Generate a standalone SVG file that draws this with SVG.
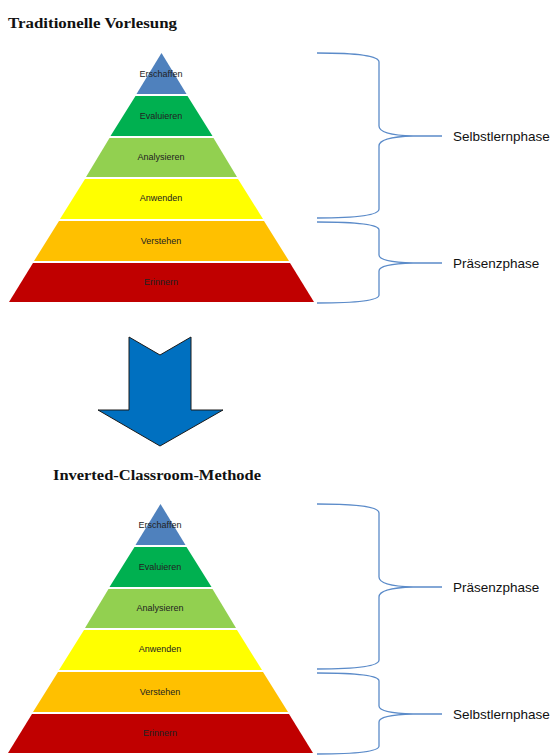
<svg xmlns="http://www.w3.org/2000/svg" width="553" height="756" viewBox="0 0 553 756">
<defs>
<style>
.title{font-family:"Liberation Serif","Times New Roman",serif;font-weight:bold;font-size:15px;fill:#111}
.lvl{font-family:"Liberation Sans",Arial,sans-serif;font-size:9px;fill:#222;text-anchor:middle;dominant-baseline:central}
.phase{font-family:"Liberation Sans",Arial,sans-serif;font-size:13.5px;fill:#111;dominant-baseline:central}
.brace{fill:none;stroke:#5B8BC9;stroke-width:1.3}
.arrow{fill:#0070C0;stroke:#1a1a1a;stroke-width:1}
</style>
<g id="pyr">
<polygon points="161.5,53 186.5,94 136.5,94" fill="#4F81BD"/>
<polygon points="135.5,96 187.5,96 212.5,136 110.5,136" fill="#00B050"/>
<polygon points="109.5,138 213.5,138 237,177 86,177" fill="#92D050"/>
<polygon points="85,179 238,179 263,219 60,219" fill="#FFFF00"/>
<polygon points="59,221 264,221 289,261 34,261" fill="#FFC000"/>
<polygon points="33,263 290,263 314,302 9,302" fill="#C00000"/>
</g>
</defs>

<text class="title" x="8" y="28" textLength="169" lengthAdjust="spacingAndGlyphs">Traditionelle Vorlesung</text>

<g id="pyramid-top">
<use href="#pyr"/>
<text class="lvl" x="161" y="74">Erschaffen</text>
<text class="lvl" x="161" y="116">Evaluieren</text>
<text class="lvl" x="161" y="157">Analysieren</text>
<text class="lvl" x="161" y="198">Anwenden</text>
<text class="lvl" x="161" y="241">Verstehen</text>
<text class="lvl" x="161" y="282">Erinnern</text>
</g>

<g id="arrow">
<polygon class="arrow" points="129,337 160,355 191,337 191,410 223,410 160,446 98,410 129,410"/>
</g>

<text class="title" x="53" y="480" textLength="208" lengthAdjust="spacingAndGlyphs">Inverted-Classroom-Methode</text>

<g id="pyramid-bottom" transform="translate(-1,451)">
<use href="#pyr"/>
<text class="lvl" x="161" y="74">Erschaffen</text>
<text class="lvl" x="161" y="116">Evaluieren</text>
<text class="lvl" x="161" y="157">Analysieren</text>
<text class="lvl" x="161" y="198">Anwenden</text>
<text class="lvl" x="161" y="241">Verstehen</text>
<text class="lvl" x="161" y="282">Erinnern</text>
</g>

<g id="connectors">
<path class="brace" d="M317,53 Q379,53 379,62 L379,126 Q379,135 413,136 L442,136 M413,136 Q379,137 379,146 L379,209 Q379,218 317,218"/>
<path class="brace" d="M317,222 Q379,222 379,230 L379,255 Q379,262 413,263 L442,263 M413,263 Q379,264 379,271 L379,295 Q379,303 317,303"/>
<path class="brace" d="M317,504 Q379,504 379,513 L379,577 Q379,586 413,587 L442,587 M413,587 Q379,588 379,597 L379,660 Q379,669 317,669"/>
<path class="brace" d="M317,673 Q379,673 379,681 L379,706 Q379,713 413,714 L442,714 M413,714 Q379,715 379,722 L379,746 Q379,754 317,754"/>
</g>

<g id="labels">
<text class="phase" x="453" y="136">Selbstlernphase</text>
<text class="phase" x="453" y="263">Präsenzphase</text>
<text class="phase" x="453" y="587">Präsenzphase</text>
<text class="phase" x="453" y="714">Selbstlernphase</text>
</g>
</svg>
